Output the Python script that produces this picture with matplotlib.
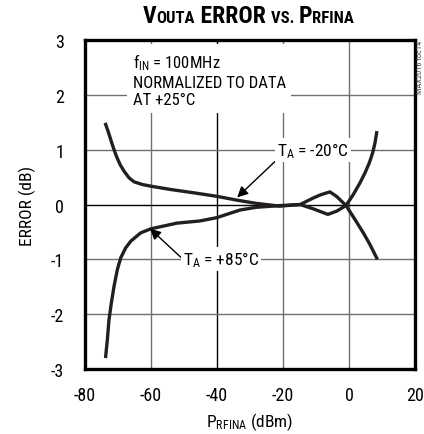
import matplotlib
matplotlib.use("Agg")
import matplotlib.pyplot as plt
from matplotlib import font_manager

# pick a narrow sans if one is installed
names = {f.name for f in font_manager.fontManager.ttflist}
stretch = 'normal'
family = None
for cand in ['Liberation Sans Narrow', 'Roboto Condensed', 'Noto Sans Condensed',
             'Open Sans Condensed', 'DejaVu Sans Condensed']:
    if cand in names:
        family = cand
        break
if family is None:
    cond = [f for f in font_manager.fontManager.ttflist
            if f.name == 'DejaVu Sans' and 'condensed' in str(f.stretch)]
    if cond:
        family, stretch = 'DejaVu Sans', 'condensed'
    elif 'Roboto' in names:
        family = 'Roboto'
    else:
        family = 'DejaVu Sans'

plt.rcParams['font.family'] = [family, 'DejaVu Sans']
plt.rcParams['font.stretch'] = stretch
plt.rcParams['mathtext.fontset'] = 'custom'
plt.rcParams['mathtext.rm'] = family
plt.rcParams['mathtext.default'] = 'regular'

# TA = -20C curve
x_m20 = [-73.74, -73.03, -72.22, -71.41, -70.5, -69.39, -68.18, -66.67, -65.15,
         -62.63, -60.1, -54.04, -46.97, -40.1, -34.0, -28.0, -21.0, -17.0, -14.8,
         -10.8, -6.4, -3.7, -0.91, 1.31, 3.33, 4.85, 6.16, 7.17, 7.88, 8.38]
y_m20 = [1.461, 1.339, 1.187, 1.035, 0.883, 0.731, 0.609, 0.487, 0.414,
         0.365, 0.335, 0.274, 0.213, 0.15, 0.08, 0.02, -0.03, -0.01, 0.0,
         -0.08, -0.18, -0.12, -0.018, 0.183, 0.396, 0.578, 0.761, 0.944, 1.126, 1.309]

# TA = +85C curve
x_p85 = [-73.74, -73.23, -72.73, -72.02, -71.21, -70.2, -69.19, -67.68, -66.16,
         -63.13, -60.1, -56.0, -52.2, -45.2, -40.1, -33.0, -28.0, -21.0, -14.8,
         -10.8, -8.5, -5.8, -3.8, -0.91, 1.82, 4.34, 6.36, 8.38]
y_p85 = [-2.770, -2.466, -2.100, -1.796, -1.492, -1.187, -0.974, -0.791, -0.670,
         -0.517, -0.444, -0.39, -0.34, -0.30, -0.24, -0.10, -0.05, -0.02, 0.0,
         0.12, 0.18, 0.23, 0.15, -0.018, -0.274, -0.517, -0.731, -0.974]

xticks = [-80, -60, -40, -20, 0, 20]
yticks = [-3, -2, -1, 0, 1, 2, 3]

fig = plt.figure(figsize=(4.24, 4.35), dpi=100)
ax = fig.add_axes([0.2005, 0.1494, 0.7783, 0.7563])
ax.set_xlim(-80, 20)
ax.set_ylim(-3, 3)
ax.set_xticks(xticks)
ax.set_yticks(yticks)
ax.set_xticklabels([str(v) for v in xticks])
ax.set_yticklabels([str(v) for v in yticks])
ax.tick_params(length=0, labelsize=13)
ax.tick_params(axis='x', pad=12)
ax.tick_params(axis='y', pad=15)

for v in xticks[1:-1]:
    ax.axvline(v, color='k' if v == -40 else '#707070', lw=1, zorder=1)
for v in yticks[1:-1]:
    ax.axhline(v, color='k' if v == 0 else '#707070', lw=1, zorder=1)

for s in ax.spines.values():
    s.set_linewidth(2.4)

ax.plot(x_m20, y_m20, color='#231f20', lw=2.4, zorder=3, solid_joinstyle='round')
ax.plot(x_p85, y_p85, color='#231f20', lw=2.4, zorder=3, solid_joinstyle='round')

ax.text(-65.5, 2.79, "$f_{IN}$ = 100MHz\nNORMALIZED TO DATA\nAT +25°C",
        fontsize=12, va='top', ha='left', linespacing=1.2, zorder=4,
        bbox=dict(facecolor='white', edgecolor='none', pad=4))

ax.annotate("$T_A$ = -20°C", xy=(-33.9, 0.13), xytext=(-21.8, 1.0),
            fontsize=12.5, va='center', ha='left', zorder=4,
            bbox=dict(facecolor='white', edgecolor='none', pad=1.5),
            arrowprops=dict(arrowstyle='-|>', color='k', lw=1,
                            mutation_scale=16, shrinkA=0, shrinkB=0,
                            relpos=(0.0, 0.0)))
ax.annotate("$T_A$ = +85°C", xy=(-60.3, -0.44), xytext=(-50.3, -1.0),
            fontsize=12.5, va='center', ha='left', zorder=4,
            bbox=dict(facecolor='white', edgecolor='none', pad=1.5),
            arrowprops=dict(arrowstyle='-|>', color='k', lw=1,
                            mutation_scale=16, shrinkA=0, shrinkB=0,
                            relpos=(0.0, 0.5)))

ax.set_ylabel("ERROR (dB)", fontsize=12.5, labelpad=11)
ax.set_xlabel(r"P$_{RFINA}$ (dBm)", fontsize=12.5, labelpad=5)

# title: big caps + small caps pieces, laid out side by side
big, small = 17, 12
parts = [("V", big), ("OUTA", small), (" ERROR ", big), ("VS. ", small),
         ("P", big), ("RFINA", small)]
renderer = fig.canvas.get_renderer()
title_texts = []
widths = []
for txt, fs in parts:
    t = fig.text(0, 0.947, txt, fontsize=fs, fontweight='bold',
                 ha='left', va='baseline')
    title_texts.append(t)
    widths.append(t.get_window_extent(renderer).width)
total = sum(widths)
x0 = 248 - total / 2
for t, w in zip(title_texts, widths):
    t.set_x(x0 / fig.bbox.width)
    x0 += w

fig.text(0.99, 0.905, "MAX2016 toc14", fontsize=6, rotation=90,
         ha='center', va='top', color='#444444')

fig.savefig("out.png", dpi=100)
